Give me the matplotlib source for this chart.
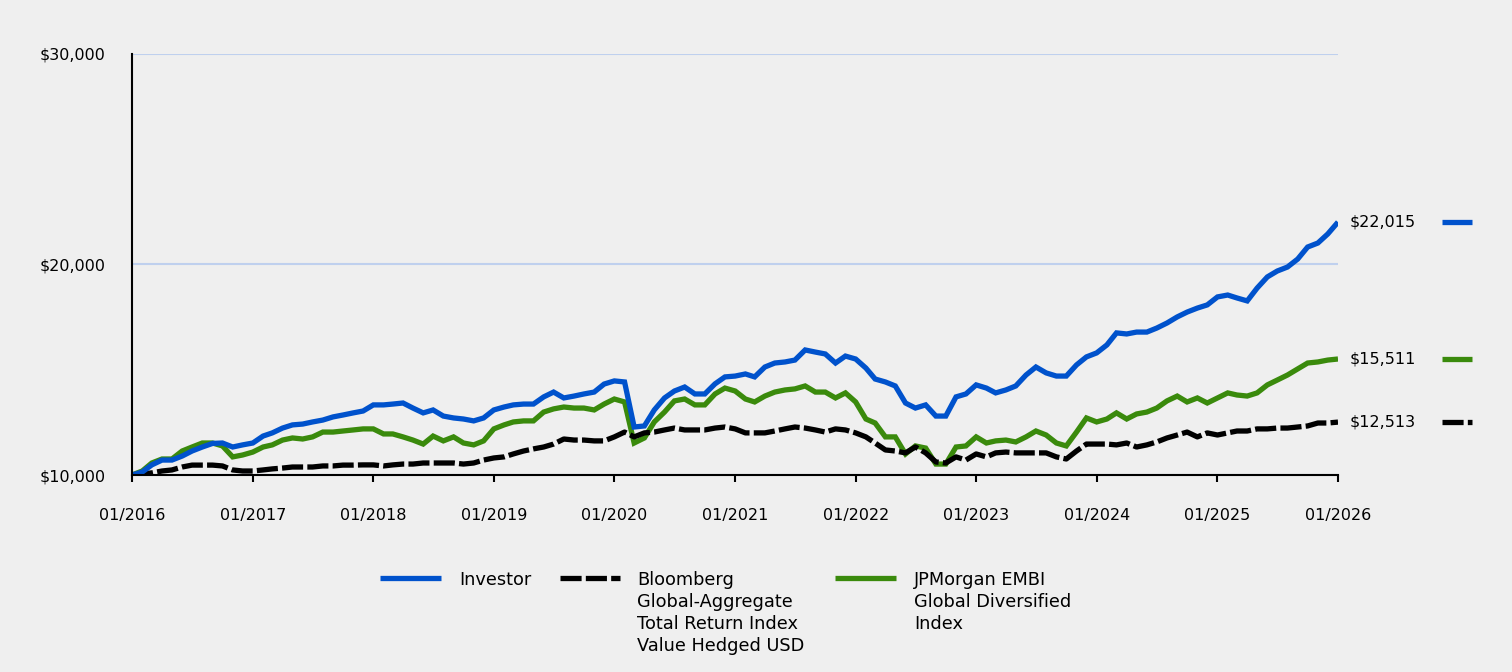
import matplotlib
matplotlib.use('Agg')
import matplotlib.pyplot as plt
import matplotlib.dates as mdates
import matplotlib.transforms as mtransforms
from matplotlib.lines import Line2D
import pandas as pd

# ---------------- data ----------------
dates = pd.date_range('2016-01-01', '2026-01-01', freq='MS')

investor = [
    10000, 10140, 10480, 10710, 10710, 10900, 11140, 11330, 11500, 11520, 11330, 11430,
    11520, 11850, 12000, 12230, 12380, 12420, 12520, 12610, 12760, 12850, 12950, 13040,
    13330, 13330, 13370, 13420, 13180, 12950, 13090, 12800, 12710, 12660, 12570, 12710,
    13090, 13230, 13330, 13370, 13370, 13710, 13940, 13660, 13750, 13850, 13940, 14320,
    14470, 14420, 12280, 12330, 13090, 13660, 13990, 14180, 13850, 13850, 14330, 14660,
    14700, 14800, 14660, 15130, 15320, 15370, 15460, 15940, 15840, 15750, 15320, 15650,
    15510, 15080, 14560, 14420, 14230, 13420, 13180, 13330, 12800, 12800, 13710, 13850,
    14280, 14130, 13900, 14040, 14230, 14750, 15130, 14850, 14700, 14700, 15230, 15610,
    15800, 16180, 16750, 16700, 16790, 16790, 16980, 17220, 17510, 17740, 17930, 18080,
    18460, 18550, 18410, 18270, 18880, 19410, 19690, 19880, 20260, 20830, 21020, 21450,
    22015]

bloomberg = [
    10000, 10050, 10100, 10190, 10240, 10380, 10470, 10470, 10470, 10430, 10240, 10190,
    10190, 10240, 10290, 10330, 10380, 10380, 10380, 10430, 10430, 10470, 10470, 10480,
    10480, 10430, 10480, 10520, 10520, 10570, 10570, 10570, 10570, 10520, 10570, 10710,
    10810, 10860, 11000, 11140, 11240, 11330, 11470, 11710, 11660, 11660, 11620, 11620,
    11810, 12040, 11810, 12000, 12040, 12140, 12230, 12140, 12140, 12140, 12230, 12280,
    12190, 12000, 12000, 12000, 12090, 12190, 12280, 12230, 12140, 12040, 12190, 12140,
    12000, 11810, 11520, 11190, 11140, 11050, 11330, 11050, 10620, 10570, 10860, 10710,
    11000, 10860, 11050, 11090, 11050, 11050, 11050, 11050, 10860, 10760, 11140, 11470,
    11470, 11470, 11430, 11520, 11330, 11430, 11570, 11760, 11900, 12040, 11810, 12000,
    11900, 12000, 12090, 12090, 12190, 12190, 12230, 12230, 12280, 12330, 12470, 12470,
    12513]

embi = [
    10000, 10190, 10570, 10760, 10760, 11140, 11330, 11520, 11520, 11380, 10860, 10950,
    11090, 11330, 11430, 11660, 11760, 11710, 11810, 12040, 12040, 12090, 12140, 12190,
    12190, 11950, 11950, 11810, 11660, 11470, 11850, 11620, 11810, 11520, 11430, 11620,
    12190, 12380, 12520, 12570, 12570, 12990, 13140, 13230, 13180, 13180, 13090, 13370,
    13610, 13470, 11520, 11760, 12520, 12990, 13520, 13610, 13330, 13330, 13850, 14130,
    13990, 13610, 13470, 13750, 13940, 14040, 14090, 14230, 13940, 13940, 13660, 13900,
    13470, 12660, 12470, 11810, 11810, 11000, 11380, 11280, 10520, 10520, 11330, 11380,
    11810, 11520, 11620, 11660, 11570, 11810, 12090, 11900, 11520, 11380, 12040, 12710,
    12520, 12660, 12950, 12660, 12900, 12990, 13180, 13520, 13750, 13470, 13660, 13420,
    13660, 13900, 13800, 13750, 13900, 14280, 14510, 14750, 15040, 15320, 15370, 15460,
    15511]

series_names = ['Investor',
                'Bloomberg\nGlobal-Aggregate\nTotal Return Index\nValue Hedged USD',
                'JPMorgan EMBI\nGlobal Diversified\nIndex']
end_labels = ['$22,015', '$12,513', '$15,511']
y_ticks = [10000, 20000, 30000]
y_tick_labels = ['$10,000', '$20,000', '$30,000']

# ---------------- style ----------------
BG = '#EFEFEF'
BLUE = '#0052CC'
BLACK = '#000000'
GREEN = '#3A8A0C'
GRID = '#BFD0EE'
LW = 3.8
DASH = (4.0, 0.8)

plt.rcParams['font.family'] = ['DejaVu Sans']

fig = plt.figure(figsize=(15.12, 6.72), dpi=100, facecolor=BG)
W, H = 1512, 672
ax = fig.add_axes([132 / W, 1 - 475 / H, (1338 - 132) / W, (475 - 54) / H])
ax.set_facecolor(BG)

values = [investor, bloomberg, embi]
colors = [BLUE, BLACK, GREEN]
styles = ['solid', 'dashed', 'solid']
zorders = [5, 4, 3]

for vals, c, ls, z in zip(values, colors, styles, zorders):
    line, = ax.plot(dates, vals, color=c, lw=LW, zorder=z,
                    solid_joinstyle='miter', solid_capstyle='butt')
    if ls == 'dashed':
        line.set_dashes(DASH)
        line.set_dash_capstyle('butt')

ax.set_xlim(dates[0], dates[-1])
ax.set_ylim(y_ticks[0], y_ticks[-1])

ax.set_yticks(y_ticks)
ax.set_yticklabels(y_tick_labels)
ax.xaxis.set_major_locator(mdates.YearLocator(1, month=1, day=1))
ax.xaxis.set_major_formatter(mdates.DateFormatter('%m/%Y'))

ax.tick_params(axis='y', length=0, pad=19, labelsize=11.5, colors='black')
ax.tick_params(axis='x', length=5, width=1.5, direction='out', pad=19,
               labelsize=11.5, colors='black')

for s in ['top', 'right']:
    ax.spines[s].set_visible(False)
for s in ['left', 'bottom']:
    ax.spines[s].set_linewidth(1.5)
    ax.spines[s].set_color('black')
    ax.spines[s].set_zorder(6)

ax.grid(axis='y', color=GRID, lw=1.5, zorder=1)
ax.grid(axis='x', visible=False)
ax.set_axisbelow(True)

# ---------------- end labels with short markers ----------------
trans = mtransforms.blended_transform_factory(ax.transAxes, ax.transData)
for vals, c, ls, lab in zip(values, colors, styles, end_labels):
    ax.text((1350 - 132) / 1206, vals[-1], lab, transform=trans,
            ha='left', va='center', fontsize=11.5, color='black', clip_on=False)
    mk = Line2D([(1442 - 132) / 1206, (1472 - 132) / 1206], [vals[-1], vals[-1]],
                transform=trans, color=c, lw=LW, clip_on=False,
                solid_capstyle='butt')
    if ls == 'dashed':
        mk.set_dashes(DASH)
        mk.set_dash_capstyle('butt')
    ax.add_line(mk)

# ---------------- legend (manual, handle aligned to first text line) ----------------
handle_x = [(380, 441), (560, 620), (835, 896)]
text_x = [459, 637, 914]
leg_y = 578
text_top = 571
for (hx0, hx1), tx, name, c, ls in zip(handle_x, text_x, series_names, colors, styles):
    ln = Line2D([hx0 / W, hx1 / W], [1 - leg_y / H, 1 - leg_y / H],
                transform=fig.transFigure, color=c, lw=LW, solid_capstyle='butt')
    if ls == 'dashed':
        ln.set_dashes(DASH)
        ln.set_dash_capstyle('butt')
    fig.add_artist(ln)
    fig.text(tx / W, 1 - text_top / H, name, ha='left', va='top',
             fontsize=12.8, color='black', linespacing=1.28)

fig.savefig('out.png', dpi=100, facecolor=BG)
